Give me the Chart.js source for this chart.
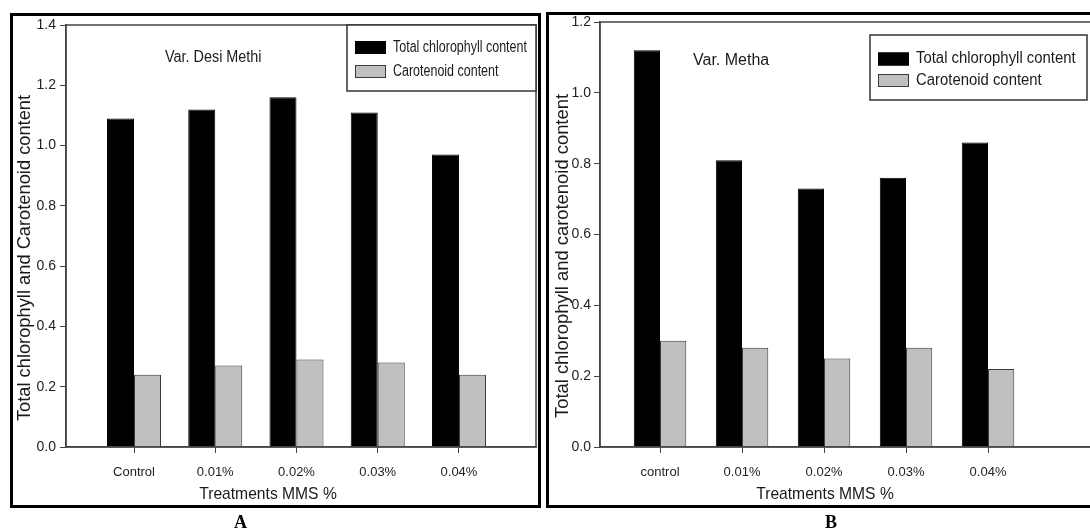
<!DOCTYPE html>
<html>
<head>
<meta charset="utf-8">
<script src="https://cdn.jsdelivr.net/npm/chart.js@4.4.1/dist/chart.umd.min.js"></script>
<style>
    html, body { margin: 0; padding: 0; background: #fff; }
    body { width: 1090px; height: 532px; position: relative; overflow: hidden; }
    canvas { position: absolute; top: 0; }
    #chartA { left: 0; }
    #chartB { left: 545px; }
    .panel { position: absolute; border: 3px solid #000; box-sizing: border-box; pointer-events: none; }
    #panelA { left: 10px; top: 13px; width: 531px; height: 495px; }
    #panelB { left: 546px; top: 12px; width: 570px; height: 496px; }
    .tag { position: absolute; top: 513px; font: bold 18px/18px 'Liberation Serif', 'Times New Roman', serif; color: #000; }
</style>
</head>
<body>
<canvas id="chartA" width="545" height="532"></canvas>
<canvas id="chartB" width="560" height="532"></canvas>
<div class="panel" id="panelA"></div>
<div class="panel" id="panelB"></div>
<div class="tag" style="left:234px">A</div>
<div class="tag" style="left:825px">B</div>

<script>
// data
const categoriesA = ['Control', '0.01%', '0.02%', '0.03%', '0.04%'];
const categoriesB = ['control', '0.01%', '0.02%', '0.03%', '0.04%'];
const chlorophyllA = [1.09, 1.12, 1.16, 1.11, 0.97];
const carotenoidA = [0.24, 0.27, 0.29, 0.28, 0.24];
const chlorophyllB = [1.12, 0.81, 0.73, 0.76, 0.86];
const carotenoidB = [0.30, 0.28, 0.25, 0.28, 0.22];
const yTicksA = [0, 0.2, 0.4, 0.6, 0.8, 1.0, 1.2, 1.4];
const yTicksB = [0, 0.2, 0.4, 0.6, 0.8, 1.0, 1.2];

const seriesNames = ['Total chlorophyll content', 'Carotenoid content'];
const xTitle = 'Treatments MMS %';
const yTitleA = 'Total chlorophyll and Carotenoid content';
const yTitleB = 'Total chlorophyll and carotenoid content';
const varietyA = 'Var. Desi Methi';
const varietyB = 'Var. Metha';

const SANS = "'Liberation Sans', Arial, sans-serif";

function toPoints(values) {
    return values.map((v, i) => ({ x: i + 1, y: v }));
}

// text squeezed sideways like the narrow type in the figure
function drawText(ctx, t) {
    ctx.save();
    ctx.translate(t.x, t.y);
    if (t.rotate) ctx.rotate(t.rotate);
    ctx.scale(t.squeeze || 1, 1);
    ctx.font = t.size + 'px ' + SANS;
    ctx.fillStyle = '#1a1a1a';
    ctx.textBaseline = 'middle';
    ctx.textAlign = t.align || 'left';
    ctx.fillText(t.text, 0, 0);
    ctx.restore();
}

const panelExtras = {
    id: 'panelExtras',
    afterDatasetsDraw(chart, args, opts) {
        const ctx = chart.ctx;
        const area = chart.chartArea;
        ctx.save();
        // frame round the plot
        ctx.strokeStyle = '#444';
        ctx.lineWidth = 1.5;
        ctx.strokeRect(area.left, area.top, area.right - area.left, area.bottom - area.top);

        // boxed legend inside the plot
        const lg = opts.legend;
        const bx = area.right - lg.right - lg.width;
        const by = area.top + lg.top;
        ctx.fillStyle = '#fff';
        ctx.fillRect(bx, by, lg.width, lg.height);
        ctx.strokeStyle = '#333';
        ctx.strokeRect(bx, by, lg.width, lg.height);
        chart.data.datasets.forEach((ds, i) => {
            const y = by + lg.first + i * lg.gap;
            ctx.fillStyle = ds.backgroundColor;
            ctx.fillRect(bx + 8, y - 6.5, 31, 13);
            ctx.strokeStyle = ds.borderColor;
            ctx.lineWidth = 1;
            ctx.strokeRect(bx + 8.5, y - 6, 30, 12);
            drawText(ctx, { text: ds.label, x: bx + 46, y: y, size: 16, squeeze: lg.squeeze });
        });

        opts.texts.forEach(t => drawText(ctx, t));
        ctx.restore();
    }
};

function makeChart(id, cfg) {
    const ctx = document.getElementById(id).getContext('2d');
    return new Chart(ctx, {
        type: 'bar',
        data: {
            datasets: [{
                label: seriesNames[0],
                data: toPoints(cfg.chlorophyll),
                backgroundColor: '#000',
                borderColor: '#000',
                borderWidth: 1,
                categoryPercentage: cfg.groupWidth,
                barPercentage: 1
            }, {
                label: seriesNames[1],
                data: toPoints(cfg.carotenoid),
                backgroundColor: '#c0c0c0',
                borderColor: '#3a3a3a',
                borderWidth: 1,
                categoryPercentage: cfg.groupWidth,
                barPercentage: 1
            }]
        },
        options: {
            responsive: false,
            animation: false,
            layout: { padding: cfg.padding },
            scales: {
                x: {
                    type: 'linear',
                    offset: false,
                    min: cfg.xMin,
                    max: cfg.xMax,
                    afterBuildTicks: scale => {
                        scale.ticks = cfg.categories.map((c, i) => ({ value: i + 1 }));
                    },
                    afterFit: scale => { scale.height = 30; },
                    ticks: {
                        autoSkip: false,
                        maxRotation: 0,
                        padding: 12,
                        color: '#222',
                        font: { family: SANS, size: 13 },
                        callback: v => cfg.categories[v - 1]
                    },
                    grid: { offset: false, drawOnChartArea: false, drawTicks: true, tickLength: 6, color: '#444', lineWidth: 1 },
                    border: { display: true, color: '#444', width: 1.5 }
                },
                y: {
                    min: 0,
                    max: cfg.yTicks[cfg.yTicks.length - 1],
                    afterBuildTicks: scale => {
                        scale.ticks = cfg.yTicks.map(v => ({ value: v }));
                    },
                    afterFit: scale => { scale.width = cfg.yWidth; },
                    ticks: {
                        padding: cfg.yTickPad,
                        color: '#222',
                        font: { family: SANS, size: cfg.yTickSize },
                        callback: v => v.toFixed(1)
                    },
                    grid: { drawOnChartArea: false, drawTicks: true, tickLength: 6, color: '#444', lineWidth: 1 },
                    border: { display: true, color: '#444', width: 1.5 }
                }
            },
            plugins: {
                legend: { display: false },
                tooltip: { enabled: false },
                panelExtras: {
                    legend: cfg.legend,
                    texts: cfg.texts
                }
            }
        },
        plugins: [panelExtras]
    });
}

document.addEventListener('DOMContentLoaded', function() {
    makeChart('chartA', {
        categories: categoriesA,
        chlorophyll: chlorophyllA,
        carotenoid: carotenoidA,
        yTicks: yTicksA,
        padding: { left: 0, top: 25, right: 9, bottom: 55 },
        xMin: 0.163,
        xMax: 5.948,
        groupWidth: 0.665,
        yWidth: 66,
        yTickPad: 4,
        yTickSize: 14,
        legend: { right: 0, top: 0, width: 189, height: 66, first: 22.5, gap: 24, squeeze: 0.78 },
        texts: [
            { text: varietyA, x: 165, y: 58, size: 16, squeeze: 0.9 },
            { text: xTitle, x: 268, y: 494, size: 17, squeeze: 0.92, align: 'center' },
            { text: yTitleA, x: 25, y: 258, size: 18.3, rotate: -Math.PI / 2, align: 'center' }
        ]
    });

    makeChart('chartB', {
        categories: categoriesB,
        chlorophyll: chlorophyllB,
        carotenoid: carotenoidB,
        yTicks: yTicksB,
        padding: { left: 0, top: 22, right: 13, bottom: 55 },
        xMin: 0.268,
        xMax: 6.268,
        groupWidth: 0.64,
        yWidth: 55,
        yTickPad: 3,
        yTickSize: 14,
        legend: { right: 5, top: 13, width: 217, height: 65, first: 24, gap: 21.5, squeeze: 0.93 },
        texts: [
            { text: varietyB, x: 148, y: 61, size: 16, squeeze: 1.0 },
            { text: xTitle, x: 280, y: 494, size: 17, squeeze: 0.92, align: 'center' },
            { text: yTitleB, x: 18, y: 256, size: 18.4, rotate: -Math.PI / 2, align: 'center' }
        ]
    });
});
</script>
</body>
</html>
